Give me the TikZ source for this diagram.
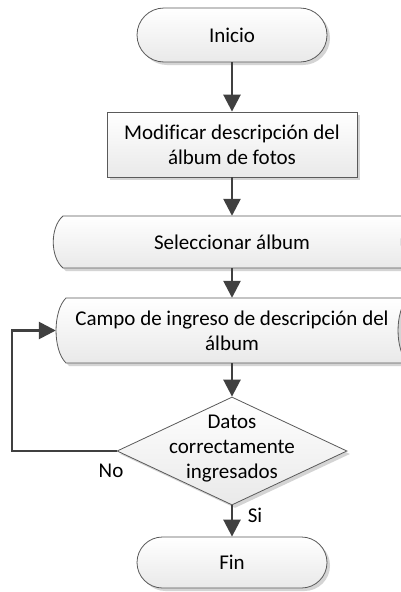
\documentclass[tikz,border=0pt]{standalone}
\usepackage{fontspec}
\setmainfont{Carlito}[Ligatures=NoCommon]
\usetikzlibrary{shapes.misc,shapes.geometric,shadows,arrows.meta}
\definecolor{edgec}{HTML}{5A5A5A}
\definecolor{arrc}{HTML}{404040}
\definecolor{shadc}{HTML}{D4D4D4}
\definecolor{botc}{HTML}{E9E9E9}
\tikzset{
  txt/.style={font=\fontsize{21}{25}\selectfont, text=black, align=center, inner sep=0pt},
  boxlook/.style={draw=edgec, line width=0.8pt, top color=white, bottom color=botc},
  shad/.style={drop shadow={shadow xshift=3pt, shadow yshift=-3pt, opacity=1, fill=shadc}},
  termbox/.style={rounded rectangle, boxlook, shad, txt, minimum width=190pt, minimum height=54pt},
  procbox/.style={rectangle, boxlook, shad, txt, minimum width=250pt, minimum height=65pt},
  decbox/.style={diamond, boxlook, shad, inner sep=0pt, minimum width=230pt, minimum height=108pt},
  holder/.style={txt, draw=none, fill=none},
  flow/.style={draw=arrc, line width=2.6pt, -{Triangle[length=17pt,width=17pt]}},
  lbl/.style={font=\fontsize{21}{25}\selectfont, inner sep=0pt}
}
\begin{document}
\begin{tikzpicture}[x=1pt,y=-1pt]
\path[use as bounding box, clip] (0,0) rectangle (401,592);
\fill[white] (0,0) rectangle (401,592);

% Inicio
\node[termbox] (start) at (232,35) {Inicio};
% Modificar
\node[procbox] (proc) at (232,144.5) {Modificar descripción del\\álbum de fotos};

% Seleccionar (stored data)
\fill[shadc, shift={(3,3)}] (63,216) -- (411,216) .. controls (398,227) and (398,257) .. (411,268) -- (63,268) .. controls (50,257) and (50,227) .. (63,216) -- cycle;
\path[boxlook] (63,216) -- (411,216) .. controls (398,227) and (398,257) .. (411,268) -- (63,268) .. controls (50,257) and (50,227) .. (63,216) -- cycle;
\node[holder, minimum width=356pt, minimum height=52pt] (sel) at (232,242) {Seleccionar álbum};

% Campo (stored data)
\fill[shadc, shift={(3,3)}] (66,298) -- (408,298) .. controls (394.7,311) and (394.7,350) .. (408,363) -- (66,363) .. controls (52.7,350) and (52.7,311) .. (66,298) -- cycle;
\path[boxlook] (66,298) -- (408,298) .. controls (394.7,311) and (394.7,350) .. (408,363) -- (66,363) .. controls (52.7,350) and (52.7,311) .. (66,298) -- cycle;
\node[holder, minimum width=352pt, minimum height=65pt] (campo) at (232,330.5) {Campo de ingreso de descripción del\\álbum};

% Decision
\node[decbox] (dec) at (232,451) {};
\node[holder] (dectxt) at (232,449) {Datos\\correctamente\\ingresados};

% Fin
\node[termbox, minimum height=51pt] (end) at (232,562.5) {Fin};

% connectors
\draw[flow] (start.south) -- (proc.north);
\draw[flow] (proc.south) -- (sel.north);
\draw[flow] (sel.south) -- (campo.north);
\draw[flow] (campo.south) -- (dec.north);
\draw[flow] (dec.south) -- (end.north);
\coordinate (loopc) at (12,451);
\draw[flow] (dec.west) -- (loopc) |- (campo.west);

\node[lbl] (nolbl) at (111,471) {No};
\node[lbl] (silbl) at (255,515) {Si};
\end{tikzpicture}
\end{document}
